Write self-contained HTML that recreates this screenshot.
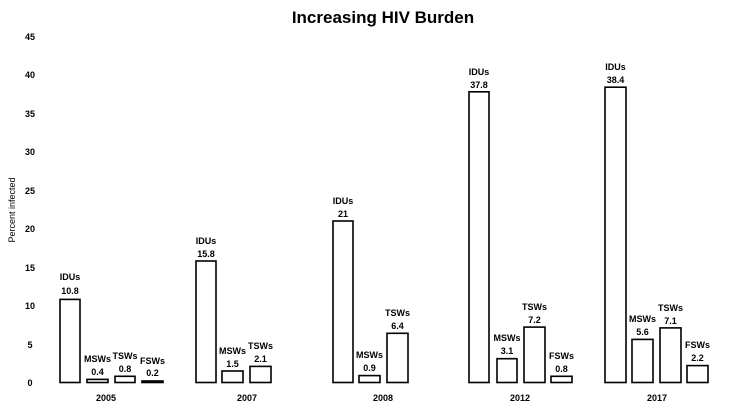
<!DOCTYPE html>
<html><head><style>body{margin:0;background:#fff}svg{display:block}text{font-family:"Liberation Sans",sans-serif;font-weight:bold;fill:#000}</style></head>
<body>
<svg width="732" height="407" xmlns="http://www.w3.org/2000/svg">
<text x="383" y="23" font-size="17" text-anchor="middle">Increasing HIV Burden</text>
<g font-size="9" text-anchor="middle">
<text x="30" y="40">45</text><text x="30" y="78">40</text><text x="30" y="117">35</text><text x="30" y="155">30</text><text x="30" y="194">25</text><text x="30" y="232">20</text><text x="30" y="271">15</text><text x="30" y="309">10</text><text x="30" y="348">5</text><text x="30" y="386">0</text>
</g>
<text transform="translate(15,210) rotate(-90)" font-size="9" font-weight="normal" text-anchor="middle" style="font-weight:normal">Percent infected</text>
<g font-size="9" text-anchor="middle">
<text x="106" y="401">2005</text><text x="247" y="401">2007</text><text x="383" y="401">2008</text><text x="520" y="401">2012</text><text x="657" y="401">2017</text>
</g>
<g fill="#fff" stroke="#000" stroke-width="1.6">
<rect x="60" y="299.4" width="20" height="83.1"/>
<rect x="87" y="379.4" width="21" height="3.1"/>
<rect x="115" y="376.3" width="20" height="6.2"/>
<rect x="142" y="381" width="21" height="1.5" fill="#000"/>
<rect x="196" y="261" width="20" height="121.5"/>
<rect x="222" y="371" width="21" height="11.5"/>
<rect x="250" y="366.4" width="21" height="16.1"/>
<rect x="333" y="221" width="20" height="161.5"/>
<rect x="359" y="375.6" width="21" height="6.9"/>
<rect x="387" y="333.3" width="21" height="49.2"/>
<rect x="469" y="91.8" width="20" height="290.7"/>
<rect x="497" y="358.7" width="20" height="23.8"/>
<rect x="524" y="327.1" width="21" height="55.4"/>
<rect x="551" y="376.3" width="21" height="6.2"/>
<rect x="605" y="87.2" width="21" height="295.3"/>
<rect x="632" y="339.4" width="21" height="43.1"/>
<rect x="660" y="327.9" width="21" height="54.6"/>
<rect x="687" y="365.6" width="21" height="16.9"/>
</g>
<g font-size="9" text-anchor="middle">
<text x="70" y="280">IDUs</text><text x="70" y="294">10.8</text>
<text x="97.5" y="362">MSWs</text><text x="97.5" y="375">0.4</text>
<text x="125" y="359">TSWs</text><text x="125" y="372">0.8</text>
<text x="152.5" y="364">FSWs</text><text x="152.5" y="376">0.2</text>
<text x="206" y="244">IDUs</text><text x="206" y="257">15.8</text>
<text x="232.5" y="354">MSWs</text><text x="232.5" y="367">1.5</text>
<text x="260.5" y="349">TSWs</text><text x="260.5" y="362">2.1</text>
<text x="343" y="204">IDUs</text><text x="343" y="217">21</text>
<text x="369.5" y="358">MSWs</text><text x="369.5" y="371">0.9</text>
<text x="397.5" y="316">TSWs</text><text x="397.5" y="329">6.4</text>
<text x="479" y="75">IDUs</text><text x="479" y="88">37.8</text>
<text x="507" y="341">MSWs</text><text x="507" y="354">3.1</text>
<text x="534.5" y="310">TSWs</text><text x="534.5" y="323">7.2</text>
<text x="561.5" y="359">FSWs</text><text x="561.5" y="372">0.8</text>
<text x="615.5" y="70">IDUs</text><text x="615.5" y="83">38.4</text>
<text x="642.5" y="322">MSWs</text><text x="642.5" y="335">5.6</text>
<text x="670.5" y="311">TSWs</text><text x="670.5" y="324">7.1</text>
<text x="697.5" y="348">FSWs</text><text x="697.5" y="361">2.2</text>
</g>
</svg>
</body></html>
